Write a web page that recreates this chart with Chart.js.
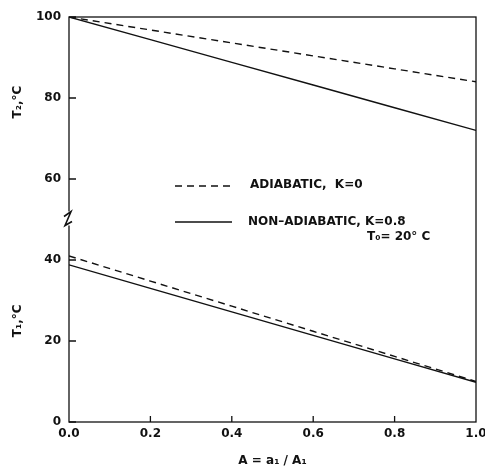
<!DOCTYPE html>
<html>
<head>
<meta charset="utf-8">
<script src="https://cdn.jsdelivr.net/npm/chart.js@4.4.1/dist/chart.umd.min.js"></script>
<style>
  html, body { margin: 0; padding: 0; background: #fff; }
  #wrap { width: 485px; height: 470px; }
</style>
</head>
<body>
<div id="wrap"><canvas id="chart" width="485" height="470"></canvas></div>
<script>
// values
const areaRatio = [0.0, 0.2, 0.4, 0.6, 0.8, 1.0];
const t2Adiabatic = [100, 96.8, 93.6, 90.4, 87.2, 84];
const t2NonAdiabatic = [100, 94.4, 88.8, 83.2, 77.6, 72];
const t1Adiabatic = [41, 34.8, 28.6, 22.4, 16.2, 10];
const t1NonAdiabatic = [38.8, 33, 27.2, 21.4, 15.6, 9.8];
const yTicks = [0, 20, 40, 60, 80, 100];
const xTicks = [0.2, 0.4, 0.6, 0.8];

const FONT = 'DejaVu Sans';
const INK = '#111';

function pts(ys) {
    return areaRatio.map((x, i) => ({ x: x, y: ys[i] }));
}

function series(label, ys, dashed) {
    return {
        label: label,
        data: pts(ys),
        borderColor: INK,
        borderWidth: 1.4,
        borderDash: dashed ? [7, 5] : [],
        pointRadius: 0,
        tension: 0,
        fill: false
    };
}

// ------------------ FRAME, TICKS, BREAK, LEGEND ------------------
const decorations = {
    id: 'decorations',
    afterDraw(chart) {
        const ctx = chart.ctx;
        const a = chart.chartArea;
        const xs = chart.scales.x;
        const ys = chart.scales.y;
        ctx.save();
        ctx.strokeStyle = INK;
        ctx.lineWidth = 1.3;
        ctx.setLineDash([]);
        ctx.strokeRect(a.left, a.top, a.right - a.left, a.bottom - a.top);

        // inward tick marks
        ctx.beginPath();
        yTicks.forEach(v => {
            const py = ys.getPixelForValue(v);
            ctx.moveTo(a.left, py);
            ctx.lineTo(a.left + 7, py);
        });
        xTicks.forEach(v => {
            const px = xs.getPixelForValue(v);
            ctx.moveTo(px, a.bottom);
            ctx.lineTo(px, a.bottom - 6);
        });
        ctx.stroke();

        // axis break on the left side
        const by = ys.getPixelForValue(50);
        ctx.fillStyle = '#fff';
        ctx.fillRect(a.left - 2, by - 8, 4, 14);
        ctx.beginPath();
        ctx.lineWidth = 1.6;
        ctx.moveTo(a.left - 5, by - 3);
        ctx.lineTo(a.left + 2, by - 8);
        ctx.lineTo(a.left - 4, by + 6);
        ctx.lineTo(a.left + 3, by + 2);
        ctx.stroke();

        // legend
        ctx.lineWidth = 1.4;
        ctx.beginPath();
        ctx.setLineDash([7, 5]);
        ctx.moveTo(175, 186);
        ctx.lineTo(232, 186);
        ctx.stroke();
        ctx.beginPath();
        ctx.setLineDash([]);
        ctx.moveTo(175, 222);
        ctx.lineTo(232, 222);
        ctx.stroke();

        ctx.fillStyle = INK;
        ctx.font = 'bold 12px "' + FONT + '"';
        ctx.textAlign = 'left';
        ctx.textBaseline = 'middle';
        ctx.fillText('ADIABATIC,  K=0', 250, 185);
        ctx.fillText('NON\u2013ADIABATIC, K=0.8', 248, 222);
        ctx.fillText('T\u2080= 20\u00b0 C', 367, 237);

        // axis titles on the left
        ctx.textAlign = 'center';
        [['T\u2082,\u00b0C', 79], ['T\u2081,\u00b0C', 25]].forEach(([txt, v]) => {
            ctx.save();
            ctx.translate(18, ys.getPixelForValue(v));
            ctx.rotate(-Math.PI / 2);
            ctx.fillText(txt, 0, 0);
            ctx.restore();
        });
        ctx.restore();
    }
};

new Chart(document.getElementById('chart'), {
    type: 'line',
    data: {
        datasets: [
            series('T2 adiabatic', t2Adiabatic, true),
            series('T2 non-adiabatic', t2NonAdiabatic, false),
            series('T1 adiabatic', t1Adiabatic, true),
            series('T1 non-adiabatic', t1NonAdiabatic, false)
        ]
    },
    options: {
        responsive: false,
        animation: false,
        layout: { padding: { left: 0, right: 9, top: 17, bottom: 0 } },
        plugins: {
            legend: { display: false },
            tooltip: { enabled: false }
        },
        scales: {
            x: {
                type: 'linear',
                min: 0,
                max: 1,
                afterBuildTicks: s => { s.ticks = areaRatio.map(v => ({ value: v })); },
                afterFit: s => { s.height = 48; s.paddingLeft = 0; s.paddingRight = 0; },
                grid: { display: false, drawTicks: false },
                border: { display: false },
                ticks: {
                    color: INK,
                    padding: 5,
                    maxRotation: 0,
                    font: { family: FONT, size: 12, weight: 'bold' },
                    callback: v => v.toFixed(1)
                },
                title: {
                    display: true,
                    text: 'A = a\u2081 / A\u2081',
                    color: INK,
                    padding: { top: 10, bottom: 2 },
                    font: { family: FONT, size: 12, weight: 'bold' }
                }
            },
            y: {
                min: 0,
                max: 100,
                afterBuildTicks: s => { s.ticks = yTicks.map(v => ({ value: v })); },
                afterFit: s => { s.width = 69; s.paddingTop = 0; s.paddingBottom = 0; },
                grid: { display: false, drawTicks: false },
                border: { display: false },
                ticks: {
                    color: INK,
                    padding: 8,
                    font: { family: FONT, size: 12, weight: 'bold' }
                }
            }
        }
    },
    plugins: [decorations]
});
</script>
</body>
</html>
